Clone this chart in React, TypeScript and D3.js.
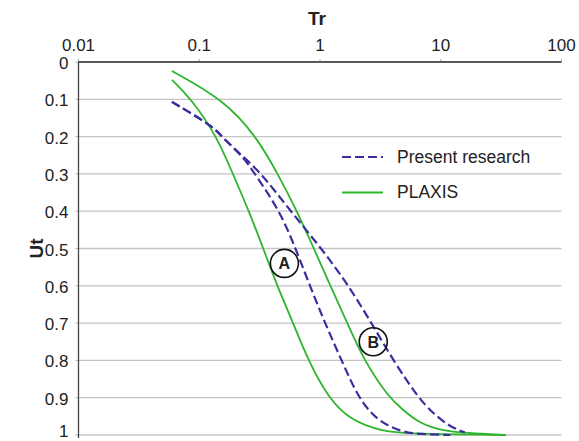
import * as d3 from 'd3'

// Tr (log) ticks and Ut ticks
const trTicks = [0.01, 0.1, 1, 10, 100]
const utTicks = [0, 0.1, 0.2, 0.3, 0.4, 0.5, 0.6, 0.7, 0.8, 0.9, 1]

// PLAXIS curves (green)
const plaxisATr = [0.0594, 0.0865, 0.14, 0.19, 0.258, 0.339, 0.442, 0.6, 0.798, 1.17, 1.77, 3.32, 5.55, 34.6]
const plaxisAUt = [0.048, 0.1, 0.2, 0.3, 0.4, 0.5, 0.6, 0.7, 0.8, 0.9, 0.96, 0.991, 0.997, 1.0]
const plaxisBTr = [0.0594, 0.158, 0.298, 0.448, 0.644, 0.89, 1.219, 1.686, 2.31, 3.72, 4.88, 6.71, 9.84, 16.4, 34.6]
const plaxisBUt = [0.024, 0.1, 0.2, 0.3, 0.4, 0.5, 0.6, 0.7, 0.8, 0.9, 0.933, 0.969, 0.987, 0.995, 1.0]

// Present research curves (dashed)
const presentATr = [0.0594, 0.131, 0.153, 0.231, 0.289, 0.466, 0.628, 0.825, 1.1, 1.51, 2.07, 2.94, 4.59, 6.71, 12]
const presentAUt = [0.107, 0.173, 0.2, 0.254, 0.3, 0.4, 0.5, 0.6, 0.7, 0.8, 0.9, 0.96, 0.991, 0.998, 1.0]
const presentBTr = [0.0594, 0.131, 0.153, 0.231, 0.33, 0.571, 1.03, 1.73, 2.67, 4.04, 6.5, 8.65, 11.9, 15.8]
const presentBUt = [0.107, 0.173, 0.2, 0.254, 0.3, 0.4, 0.5, 0.6, 0.7, 0.8, 0.9, 0.942, 0.978, 0.993]

// circled labels
const markLabels = ['A', 'B']
const markTr = [0.507, 2.76]
const markUt = [0.54, 0.75]

const W = 579
const H = 441
const M = { top: 62, right: 17.5, bottom: 6, left: 78.5 }

const GREEN = '#2DB52D'
const BLUE = '#3A2F9F'
const FONT = '"Liberation Sans", Arial, sans-serif'

const x = d3.scaleLog().domain([0.01, 100]).range([M.left, W - M.right])
const y = d3.scaleLinear().domain([0, 1]).range([M.top, H - M.bottom])

// 부드러운 곡선
const line = d3.line<[number, number]>()
  .x((d) => x(d[0]))
  .y((d) => y(d[1]))
  .curve(d3.curveBasis)

const zip = (a: number[], b: number[]) => a.map((v, i) => [v, b[i]] as [number, number])

const series = [
  { tr: plaxisATr, ut: plaxisAUt, color: GREEN, dash: '' },
  { tr: plaxisBTr, ut: plaxisBUt, color: GREEN, dash: '' },
  { tr: presentATr, ut: presentAUt, color: BLUE, dash: '9 4' },
  { tr: presentBTr, ut: presentBUt, color: BLUE, dash: '9 4' },
]

const legend = [
  { label: 'Present research', color: BLUE, dash: '9 4' },
  { label: 'PLAXIS', color: GREEN, dash: '' },
]

export default function App() {
  const [x0, x1] = x.range()
  const [y0, y1] = y.range()
  return (
    <svg width={W} height={H} style={{ position: 'absolute', left: 0, top: 0, fontFamily: FONT }}>
      <rect width={W} height={H} fill="#fff" />

      {/* grid */}
      {utTicks.slice(1).map((t) => (
        <line key={t} x1={x0} x2={x1} y1={y(t)} y2={y(t)} stroke="#C4C4C4" strokeWidth={1.3} />
      ))}

      {/* ticks */}
      {trTicks.map((t) => (
        <line key={'tx' + t} x1={x(t)} x2={x(t)} y1={y0 - 3} y2={y0} stroke="#B0B0B0" strokeWidth={1} />
      ))}
      {utTicks.map((t) => (
        <line key={'ty' + t} x1={x0 - 3} x2={x0} y1={y(t)} y2={y(t)} stroke="#B0B0B0" strokeWidth={1} />
      ))}

      {/* axis lines */}
      <line x1={x0} x2={x1} y1={y0} y2={y0} stroke="#222" strokeWidth={1.3} />
      <line x1={x0} x2={x0} y1={y0} y2={y1 + 3} stroke="#444" strokeWidth={1.3} />

      {/* tick labels */}
      {trTicks.map((t) => (
        <text key={'lx' + t} x={x(t)} y={y0 - 11.5} textAnchor="middle" fontSize={17} fill="#222">
          {String(t)}
        </text>
      ))}
      {utTicks.map((t) => (
        <text key={'ly' + t} x={x0 - 10} y={Math.min(y(t) + 7, H - 4)} textAnchor="end" fontSize={17} fill="#222">
          {String(t)}
        </text>
      ))}

      {/* axis titles */}
      <text x={x(1) - 3} y={25} textAnchor="middle" fontSize={19} fontWeight="bold" fill="#222">Tr</text>
      <text transform={`translate(43,${(y0 + y1) / 2}) rotate(-90)`} textAnchor="middle" fontSize={19} fontWeight="bold" fill="#222">Ut</text>

      {/* curves */}
      {series.map((s, i) => (
        <path key={i} d={line(zip(s.tr, s.ut)) ?? ''} fill="none" stroke={s.color}
          strokeWidth={s.dash ? 2.2 : 1.8} strokeDasharray={s.dash || undefined} />
      ))}

      {/* circled labels */}
      {markLabels.map((m, i) => (
        <g key={m} transform={`translate(${x(markTr[i])},${y(markUt[i])})`}>
          <circle r={14} fill="none" stroke="#111" strokeWidth={1.6} />
          <text y={6} textAnchor="middle" fontSize={16} fontWeight="bold" fill="#222">{m}</text>
        </g>
      ))}

      {/* legend */}
      {legend.map((l, i) => (
        <g key={l.label} transform={`translate(342,${157 + i * 35.5})`}>
          <line x1={0} x2={41} y1={0} y2={0} stroke={l.color} strokeWidth={l.dash ? 2.2 : 1.8}
            strokeDasharray={l.dash || undefined} />
          <text x={55} y={5.5} fontSize={17.5} fill="#222">{l.label}</text>
        </g>
      ))}
    </svg>
  )
}
